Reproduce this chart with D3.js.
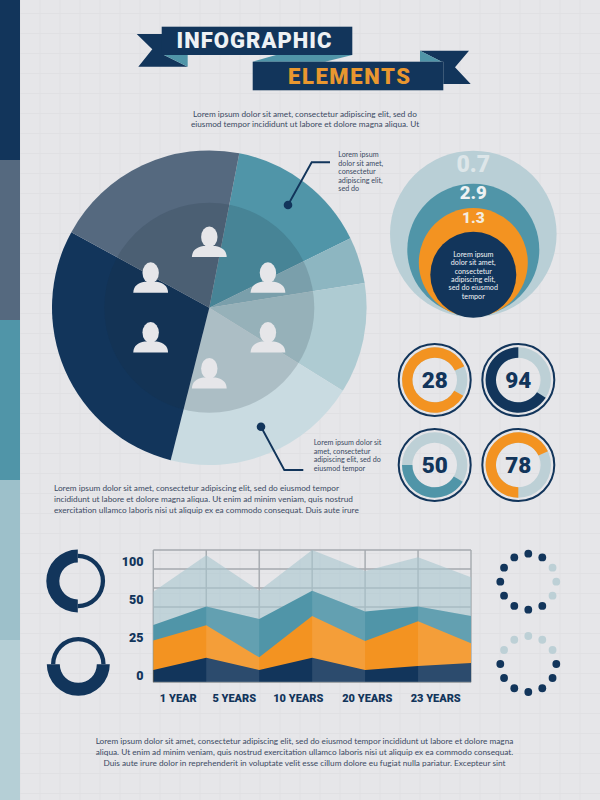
<!DOCTYPE html>
<html>
<head>
<meta charset="utf-8">
<script src="https://cdnjs.cloudflare.com/ajax/libs/d3/7.8.5/d3.min.js"></script>
<style>
html, body { margin: 0; padding: 0; background: #e6e6e9; }
svg { display: block; }
.body { font-family: "Lato", "Open Sans", sans-serif; fill: #3b4a63; }
.block { font-family: "Roboto", sans-serif; font-weight: 900; }
</style>
</head>
<body>
<svg id="chart" width="600" height="800"></svg>
<script>
// Palette
var navy = "#12355b", slate = "#55697f", teal = "#5095a8", mist = "#8db6c1",
    haze = "#aecbd2", pale = "#c9dbe1", orange = "#f39321", paper = "#e6e6e9";

// Side strip
var stripColors = [navy, slate, teal, "#9dc0ca", "#b5cfd6"];

// Pie: widths of the slices in degrees, clockwise from the teal one
var pieValues = [52.8, 17.2, 40.9, 72.3, 104.5, 72.3];
var pieColors = [teal, mist, haze, pale, navy, slate];
var personAngles = [0, 63, 117, 180, 243, 297];

// Nested circles
var nestedLabels = ["0.7", "2.9", "1.3"];
var nestedColors = ["#b9cfd6", teal, orange];
var nestedTextColors = ["#dde6e9", "#eef2f3", "#f3ecdf"];
var nestedText = ["Lorem ipsum", "dolor sit amet,", "consectetur", "adipiscing elit,", "sed do eiusmod", "tempor"];

// Small donuts: number, start and sweep of the coloured part (degrees)
var donutLabels = ["28", "94", "50", "78"];
var donutStart = [119, 123, 121, 180];
var donutSweep = [306, 237, 149, 245];
var donutColors = [orange, navy, teal, orange];

// Area chart, cumulative tops of the bands
var yTicks = [0, 25, 50, 100];
var navyTop = [3.3, 11.5, 3.3, 11.5, 3.3, 6.0, 8.0];
var orangeTop = [22.8, 32.9, 11.7, 39.0, 22.6, 35.5, 21.0];
var tealTop = [33.1, 45.2, 37.1, 61.3, 41.9, 45.2, 39.0];
var paleTop = [60, 107.4, 61.3, 114.3, 87, 104.8, 78.7];
var years = [1, 5, 10, 20, 23];
var yearLabels = ["1 YEAR", "5 YEARS", "10 YEARS", "20 YEARS", "23 YEARS"];

// Dot rings, 1 = dark, from the top clockwise
var dotsTop = [1, 1, 0, 0, 0, 1, 1, 1, 1, 1, 1, 1];
var dotsBottom = [0, 0, 0, 1, 1, 1, 1, 1, 1, 1, 0, 0];

var svg = d3.select("#chart");

// background grid
var bg = svg.append("g").attr("stroke", "#e0e0e3").attr("stroke-width", 1);
d3.range(20, 600, 20).forEach(function (x) {
    bg.append("line").attr("x1", x).attr("x2", x).attr("y1", 0).attr("y2", 800);
});
d3.range(13.5, 800, 20).forEach(function (y) {
    bg.append("line").attr("x1", 0).attr("x2", 600).attr("y1", y).attr("y2", y);
});

svg.selectAll("rect.strip").data(stripColors).enter().append("rect")
    .attr("class", "strip")
    .attr("x", 0).attr("width", 20)
    .attr("y", function (d, i) { return i * 160; }).attr("height", 160)
    .attr("fill", function (d) { return d; });

function textLines(lines, x, y, lineH, size, anchor, color) {
    var g = svg.append("g");
    lines.forEach(function (t, i) {
        g.append("text").attr("class", "body")
            .attr("x", x).attr("y", y + i * lineH)
            .attr("font-size", size)
            .attr("text-anchor", anchor)
            .style("fill", color || null)
            .text(t);
    });
}

// ----- ribbons -----
function poly(points, fill) {
    svg.append("polygon")
        .attr("points", points.map(function (p) { return p.join(","); }).join(" "))
        .attr("fill", fill);
}
poly([[136.7, 34], [165, 34], [165, 55], [164, 55], [187.7, 66.7], [138.3, 66.7], [152.3, 49.3]], navy);
poly([[164, 55], [187.7, 55], [187.7, 66.7]], teal);
poly([[252.7, 61.7], [276, 55], [352.3, 55], [325, 61.7]], teal);
poly([[420, 50.7], [469, 50.7], [455, 67.3], [470.7, 84], [443.3, 84], [443.3, 61.7], [441.7, 61.7]], navy);
poly([[420, 50.7], [441.7, 61.7], [420, 61.7]], teal);
svg.append("rect").attr("x", 161.7).attr("y", 26.7).attr("width", 190.6).attr("height", 28.3).attr("fill", navy);
svg.append("rect").attr("x", 252.7).attr("y", 61.7).attr("width", 190.6).attr("height", 28.6).attr("fill", navy);
svg.append("text").attr("class", "block").attr("x", 176.5).attr("y", 48)
    .attr("font-size", 22).attr("fill", "#eef1f4")
    .attr("textLength", 155).attr("lengthAdjust", "spacing").text("INFOGRAPHIC");
svg.append("text").attr("class", "block").attr("x", 288).attr("y", 84)
    .attr("font-size", 22).attr("fill", "#e9972f")
    .attr("textLength", 122).attr("lengthAdjust", "spacing").text("ELEMENTS");

textLines(["Lorem ipsum dolor sit amet, consectetur adipiscing elit, sed do",
    "eiusmod tempor incididunt ut labore et dolore magna aliqua. Ut"], 305, 116.5, 10.4, 8.25, "middle");

// ----- pie -----
var pieX = 209.3, pieY = 307.7, pieR = 157.3, innerR = 105;
var pie = d3.pie().sort(null)
    .startAngle(11 * Math.PI / 180)
    .endAngle((11 + 360) * Math.PI / 180);
var arc = d3.arc().innerRadius(0).outerRadius(pieR);
var pieG = svg.append("g").attr("transform", "translate(" + pieX + "," + pieY + ")");
pieG.selectAll("path").data(pie(pieValues)).enter().append("path")
    .attr("d", arc)
    .attr("fill", function (d, i) { return pieColors[i]; });
pieG.append("circle").attr("r", innerR).attr("fill", "#1a2a3a").attr("opacity", 0.16);

// little people
personAngles.forEach(function (a) {
    var p = d3.pointRadial(a * Math.PI / 180, 65.8);
    var g = pieG.append("g").attr("transform", "translate(" + p[0] + "," + p[1] + ")").attr("fill", paper);
    g.append("ellipse").attr("cx", 0).attr("cy", -5).attr("rx", 8.2).attr("ry", 10.5);
    g.append("path").attr("d", "M-17.4,15 C-17,8 -13,5.5 -6,4 L6,4 C13,5.5 17,8 17.4,15 Z");
});

// callouts
svg.append("path").attr("d", "M288,205 L311.7,162.3 L330,162.3")
    .attr("fill", "none").attr("stroke", navy).attr("stroke-width", 1.9);
svg.append("circle").attr("cx", 288).attr("cy", 205).attr("r", 4.3).attr("fill", navy);
svg.append("path").attr("d", "M261,426.7 L284.3,470 L303.3,470")
    .attr("fill", "none").attr("stroke", navy).attr("stroke-width", 1.9);
svg.append("circle").attr("cx", 261).attr("cy", 426.7).attr("r", 4.3).attr("fill", navy);
textLines(["Lorem ipsum", "dolor sit amet,", "consectetur", "adipiscing elit,", "sed do"], 338.3, 157.4, 8.4, 7.2, "start");
textLines(["Lorem ipsum dolor sit", "amet, consectetur", "adipiscing elit, sed do", "eiusmod tempor"], 313.7, 445.4, 8.4, 7.2, "start");

textLines(["Lorem ipsum dolor sit amet, consectetur adipiscing elit, sed do eiusmod tempor",
    "incididunt ut labore et dolore magna aliqua. Ut enim ad minim veniam, quis nostrud",
    "exercitation ullamco laboris nisi ut aliquip ex ea commodo consequat. Duis aute irure"], 54, 490.5, 11, 8.25, "start");

// ----- nested circles -----
var nestX = 473.3;
var nestR = [83.3, 66, 54.5, 43], nestY = [234, 249.7, 262.5, 274.7];
var nestLabelY = [171.5, 198.5, 223], nestLabelSize = [23, 18.5, 15.5];
nestedColors.concat([navy]).forEach(function (c, i) {
    svg.append("circle").attr("cx", nestX).attr("cy", nestY[i]).attr("r", nestR[i]).attr("fill", c);
});
nestedLabels.forEach(function (t, i) {
    svg.append("text").attr("class", "block").attr("x", nestX).attr("y", nestLabelY[i])
        .attr("text-anchor", "middle").attr("font-size", nestLabelSize[i])
        .attr("fill", nestedTextColors[i]).text(t);
});
textLines(nestedText, nestX, 256.8, 8.4, 7.2, "middle", "#f1f3f5");

// ----- small donuts -----
var donutX = d3.scalePoint().domain([0, 1]).range([434.7, 518.3]);
var donutY = d3.scalePoint().domain([0, 1]).range([380, 465]);
donutLabels.forEach(function (t, i) {
    var g = svg.append("g").attr("transform", "translate(" + donutX(i % 2) + "," + donutY(Math.floor(i / 2)) + ")");
    var ring = d3.arc().innerRadius(22.3).outerRadius(32.7);
    g.append("circle").attr("r", 36).attr("fill", "none").attr("stroke", navy).attr("stroke-width", 2);
    g.append("path").attr("fill", "#bdd0d6")
        .attr("d", ring({ startAngle: 0, endAngle: 2 * Math.PI }));
    g.append("path").attr("fill", donutColors[i])
        .attr("d", ring({ startAngle: donutStart[i] * Math.PI / 180, endAngle: (donutStart[i] + donutSweep[i]) * Math.PI / 180 }));
    g.append("text").attr("class", "block").attr("y", 8).attr("text-anchor", "middle")
        .attr("font-size", 22.5).attr("fill", navy).text(t);
});

// ----- area chart -----
var plotL = 153.3, plotR = 471, plotT = 550, plotB = 682.3;
var x = d3.scaleLinear().domain([0, 6]).range([plotL, plotR]);
var y = d3.scaleLinear().domain(yTicks).range([675, 637.3, 599.3, 561]);
var yearX = d3.scaleLinear().domain(years).range([178.3, 234.3, 298.3, 367.3, 435.7]);

var gridG = svg.append("g").attr("stroke", "#a4a9ae").attr("stroke-width", 1.4).attr("fill", "none");
d3.range(0, 7).forEach(function (i) {
    gridG.append("line").attr("x1", x(i)).attr("x2", x(i)).attr("y1", plotT).attr("y2", plotB);
});
d3.range(plotT, 620, 19).forEach(function (gy) {
    gridG.append("line").attr("x1", plotL).attr("x2", plotR).attr("y1", gy).attr("y2", gy);
});

var bands = [
    { top: paleTop, fill: "#a9c6ce", opacity: 0.62 },
    { top: tealTop, fill: teal, opacity: 1 },
    { top: orangeTop, fill: orange, opacity: 1 },
    { top: navyTop, fill: navy, opacity: 1 }
];
var area = d3.area()
    .x(function (d, i) { return x(i); })
    .y0(plotB)
    .y1(function (d) { return y(d); });
bands.forEach(function (b) {
    svg.append("path").attr("d", area(b.top)).attr("fill", b.fill).attr("opacity", b.opacity);
});
// every second column is a bit lighter below the pale band
[1, 3, 5].forEach(function (i) {
    var id = "col" + i;
    svg.append("clipPath").attr("id", id).append("rect")
        .attr("x", x(i)).attr("y", plotT).attr("width", x(i + 1) - x(i)).attr("height", plotB - plotT);
    svg.append("path").attr("d", area(tealTop)).attr("clip-path", "url(#" + id + ")")
        .attr("fill", "#fff").attr("opacity", 0.11);
});
svg.append("line").attr("x1", plotL).attr("x2", plotR).attr("y1", plotB).attr("y2", plotB)
    .attr("stroke", "#a4a9ae").attr("stroke-width", 1);

svg.append("g").selectAll("text").data(yTicks).enter().append("text")
    .attr("class", "block").attr("x", 143.5).attr("y", function (d) { return y(d) + 4.6; })
    .attr("text-anchor", "end").attr("font-size", 12.5).attr("fill", navy)
    .text(function (d) { return d; });
svg.append("g").selectAll("text").data(years).enter().append("text")
    .attr("class", "block").attr("x", function (d) { return yearX(d); }).attr("y", 702)
    .attr("text-anchor", "middle").attr("font-size", 11).attr("fill", navy)
    .text(function (d, i) { return yearLabels[i]; });

// ----- half thick rings -----
function halfRing(cx, cy, thickStart) {
    var g = svg.append("g").attr("transform", "translate(" + cx + "," + cy + ")").attr("fill", navy);
    var thick = d3.arc().innerRadius(18.5).outerRadius(31.5);
    var thin = d3.arc().innerRadius(23).outerRadius(27.3);
    g.append("path").attr("d", thin({ startAngle: thickStart + Math.PI, endAngle: thickStart + 2 * Math.PI }));
    g.append("path").attr("d", thick({ startAngle: thickStart, endAngle: thickStart + Math.PI }));
}
halfRing(77.8, 581, Math.PI);
halfRing(78.3, 664.3, Math.PI / 2);

// ----- dot rings -----
function dotRing(states, cx, cy) {
    var g = svg.append("g").attr("transform", "translate(" + cx + "," + cy + ")");
    g.selectAll("circle").data(states).enter().append("circle")
        .attr("cx", function (d, i) { return d3.pointRadial(i * Math.PI / 6, 28)[0]; })
        .attr("cy", function (d, i) { return d3.pointRadial(i * Math.PI / 6, 28)[1]; })
        .attr("r", 3.9)
        .attr("fill", function (d) { return d ? navy : "#bdd0d6"; });
}
dotRing(dotsTop, 528.3, 581.7);
dotRing(dotsBottom, 528.3, 664);

textLines(["Lorem ipsum dolor sit amet, consectetur adipiscing elit, sed do eiusmod tempor incididunt ut labore et dolore magna",
    "aliqua. Ut enim ad minim veniam, quis nostrud exercitation ullamco laboris nisi ut aliquip ex ea commodo consequat.",
    "Duis aute irure dolor in reprehenderit in voluptate velit esse cillum dolore eu fugiat nulla pariatur. Excepteur sint"], 304.5, 743.5, 11, 8.25, "middle");
</script>
</body>
</html>
